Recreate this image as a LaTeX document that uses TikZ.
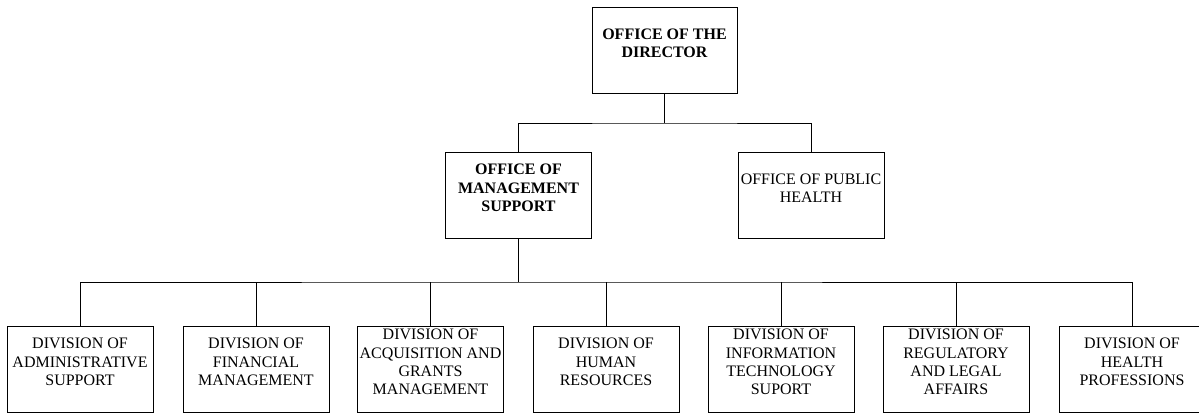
\documentclass[tikz,border=0pt]{standalone}
\usepackage{fontspec}
\setmainfont{Liberation Serif}
\tikzset{
    unitbox/.style = {draw, line width = 0.8pt, minimum width = 146pt, minimum height = 86pt, inner sep = 0pt},
    unittext/.style = {yshift = 7pt, align = center, font = \fontsize{16}{18.3}\selectfont, inner sep = 0pt},
    headtext/.style = {unittext, font = \fontsize{16}{18.3}\selectfont\bfseries}
}
\begin{document}
\begin{tikzpicture}[x = 1pt, y = -1pt]
        \useasboundingbox (0, 0) rectangle (1199, 413);
        \node[unitbox, minimum width = 145pt, label = {[headtext]center:{OFFICE OF THE\\DIRECTOR}}] (dir) at (664.5, 50) {};
        \node[unitbox, label = {[headtext]center:{OFFICE OF\\MANAGEMENT\\SUPPORT}}] (mgmt) at (518.5, 195) {};
        \node[unitbox, label = {[unittext]center:{OFFICE OF PUBLIC\\HEALTH}}] (pub) at (811, 195) {};
        \coordinate (topbar) at (664.5, 123);
        \draw[line width = 0.8pt] (dir.south) -- (topbar);
        \draw[line width = 0.8pt] (mgmt.north) |- (topbar) -| (pub.north);
        \node[unitbox, label = {[unittext]center:{DIVISION OF\\ADMINISTRATIVE\\SUPPORT}}] (d1) at (80, 369) {};
        \node[unitbox, label = {[unittext]center:{DIVISION OF\\FINANCIAL\\MANAGEMENT}}] (d2) at (256, 369) {};
        \node[unitbox, label = {[unittext]center:{DIVISION OF\\ACQUISITION AND\\GRANTS\\MANAGEMENT}}] (d3) at (430.5, 369) {};
        \node[unitbox, label = {[unittext]center:{DIVISION OF\\HUMAN\\RESOURCES}}] (d4) at (606, 369) {};
        \node[unitbox, label = {[unittext]center:{DIVISION OF\\INFORMATION\\TECHNOLOGY\\SUPORT}}] (d5) at (781, 369) {};
        \node[unitbox, label = {[unittext]center:{DIVISION OF\\REGULATORY\\AND LEGAL\\AFFAIRS}}] (d6) at (956, 369) {};
        \node[unitbox, label = {[unittext]center:{DIVISION OF\\HEALTH\\PROFESSIONS}}] (d7) at (1132, 369) {};
        \coordinate (lowbar) at (518.5, 282);
        \draw[line width = 0.8pt] (mgmt.south) -- (lowbar);
        \draw[line width = 0.8pt] (d1.north) |- (lowbar) -| (d7.north);
        \foreach \i in {2, ..., 6}
            \draw[line width = 0.8pt] (d\i.north) -- (d\i.north |- lowbar);
    \end{tikzpicture}
\end{document}
